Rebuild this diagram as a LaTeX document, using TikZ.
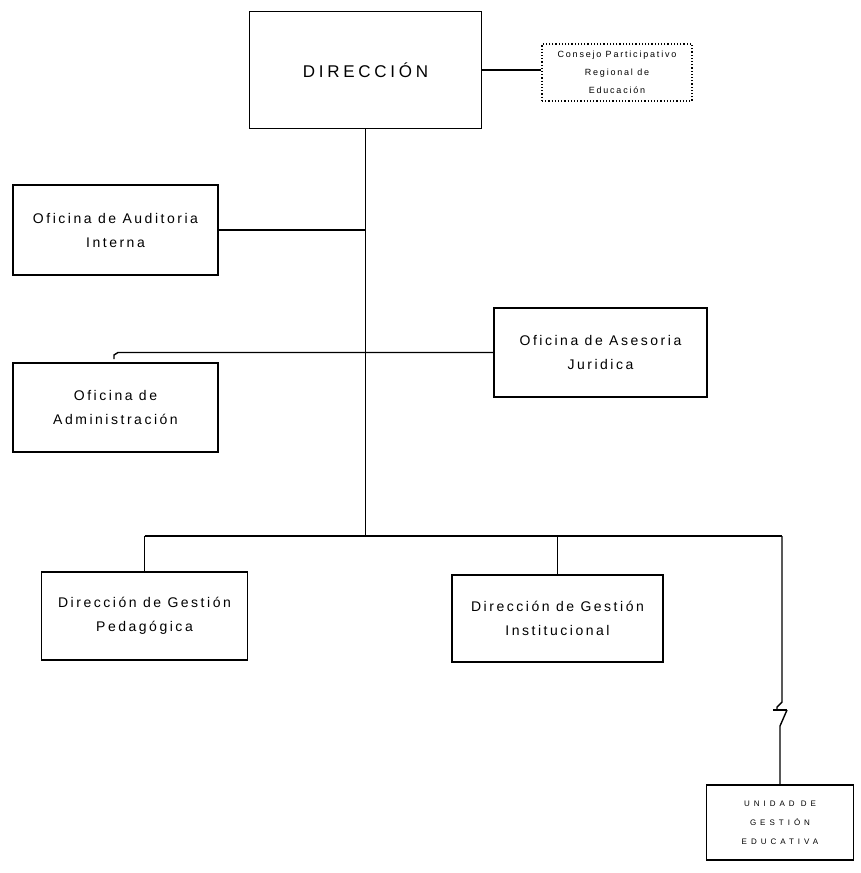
\documentclass[tikz,border=0pt]{standalone}
\usepackage{fontspec}
\setmainfont{Liberation Sans}
\begin{document}
\begin{tikzpicture}[x=1pt,y=-1pt,
  box/.style={draw, line width=1.6pt, inner sep=0pt, align=center,
    font=\fontsize{14}{24}\selectfont\addfontfeature{LetterSpace=18}},
  conn/.style={line width=1.4pt},
  dotbox/.style={draw, dotted, line width=1.2pt, inner sep=0pt, align=center,
    font=\fontsize{9}{18}\selectfont\addfontfeature{LetterSpace=20}},
  smallbox/.style={draw, line width=1.6pt, inner sep=0pt, align=center,
    font=\fontsize{8}{19}\selectfont\addfontfeature{LetterSpace=50}}]
\useasboundingbox (0,0) rectangle (861,873);

\node[box, minimum width=232pt, minimum height=117pt,
  font=\fontsize{17}{20}\selectfont\addfontfeature{LetterSpace=22}] (dir) at (365.5,70) {DIRECCIÓN};
\node[dotbox, minimum width=150pt, minimum height=57pt] (cons) at (617,72.5)
  {Consejo Participativo\\Regional de\\Educación};
\node[box, minimum width=205pt, minimum height=90pt] (aud) at (115.5,230)
  {Oficina de Auditoria\\Interna};
\node[box, minimum width=213pt, minimum height=89pt] (ase) at (600.5,352.5)
  {Oficina de Asesoria\\Juridica};
\node[box, minimum width=205pt, minimum height=89pt] (adm) at (115.5,407.5)
  {Oficina de\\Administración};
\node[box, minimum width=206pt, minimum height=88pt] (dgp) at (144.5,616)
  {Dirección de Gestión\\Pedagógica};
\node[box, minimum width=211pt, minimum height=87pt] (dgi) at (557.5,618.5)
  {Dirección de Gestión\\Institucional};
\node[smallbox, minimum width=147pt, minimum height=75pt] (uge) at (780,822.5)
  {UNIDAD DE\\GESTIÓN\\EDUCATIVA};

\coordinate (busM) at (365.5,536);
\coordinate (busR) at (782,536);
\coordinate (admEnd) at (118,352.5);
\coordinate (hook) at (114,359);
\coordinate (brk1) at (782,702);
\coordinate (brk2) at (777,707);
\coordinate (brk3) at (777,710);
\coordinate (tickL) at (773,710);
\coordinate (tickR) at (787,710);
\coordinate (brk4) at (780,726);

\draw[conn] (dir.east) -- (dir.east -| cons.west);
\draw[conn] (dir.south) -- (busM);
\draw[conn] (aud.east) -- (aud.east -| busM);
\draw[conn] (ase.west) -- (ase.west -| busM) -- (admEnd) -- (114,355) -- (hook);
\draw[conn] (dgp.north |- busM) -- (busR);
\draw[conn] (dgp.north |- busM) -- (dgp.north);
\draw[conn] (dgi.north |- busM) -- (dgi.north);
\draw[conn] (busR) -- (brk1) -- (brk2) -- (brk3);
\draw[conn] (tickL) -- (tickR);
\draw[conn] (tickR) -- (brk4) -- (uge.north);
\end{tikzpicture}
\end{document}
